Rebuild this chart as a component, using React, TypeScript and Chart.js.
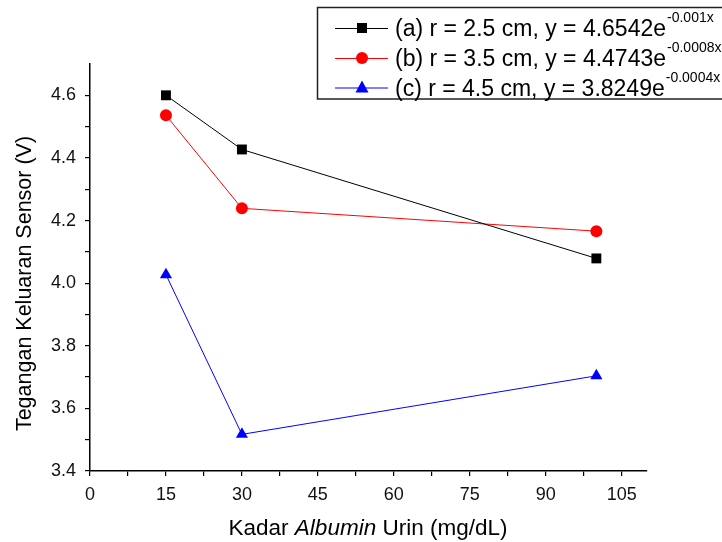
import React, { useEffect, useRef } from 'react';
import { Chart, registerables } from 'chart.js';

Chart.register(...registerables);

// ---- data ----
const xValues = [15, 30, 100];
const seriesA = [4.6, 4.427, 4.079];
const seriesB = [4.536, 4.239, 4.166];
const seriesC = [4.027, 3.517, 3.704];
const legendMain = [
  '(a) r = 2.5 cm, y = 4.6542e',
  '(b) r = 3.5 cm, y = 4.4743e',
  '(c) r = 4.5 cm, y = 3.8249e',
];
const legendSup = ['-0.001x', '-0.0008x', '-0.0004x'];
const seriesColors = ['#000000', '#ff0000', '#0000ff'];
const pointStyles = ['rect', 'circle', 'triangle'];
const pointRadii = [7, 6, 7];
const xMajorTicks = [0, 15, 30, 45, 60, 75, 90, 105];
const xMinorTicks = [7.5, 22.5, 37.5, 52.5, 67.5, 82.5, 97.5];
const yMajorTicks = [3.4, 3.6, 3.8, 4.0, 4.2, 4.4, 4.6];
const yMinorTicks = [3.5, 3.7, 3.9, 4.1, 4.3, 4.5];
const yTitle = 'Tegangan Keluaran Sensor (V)';
const xTitleParts = [
  { text: 'Kadar ', italic: false },
  { text: 'Albumin', italic: true },
  { text: ' Urin (mg/dL)', italic: false },
];

const FONT = '"Liberation Sans", Arial, sans-serif';

function drawMarker(ctx: CanvasRenderingContext2D, style: string, x: number, y: number, color: string) {
  ctx.fillStyle = color;
  ctx.beginPath();
  if (style === 'rect') {
    ctx.rect(x - 5, y - 5, 10, 10);
  } else if (style === 'circle') {
    ctx.arc(x, y, 6, 0, Math.PI * 2);
  } else {
    ctx.moveTo(x, y - 7);
    ctx.lineTo(x + 6.5, y + 5);
    ctx.lineTo(x - 6.5, y + 5);
    ctx.closePath();
  }
  ctx.fill();
}

const decorPlugin = {
  id: 'decor',
  afterDraw(chart: any) {
    const ctx: CanvasRenderingContext2D = chart.ctx;
    // Y title
    ctx.save();
    ctx.fillStyle = '#000';
    ctx.font = `21.5px ${FONT}`;
    ctx.textAlign = 'center';
    ctx.textBaseline = 'middle';
    ctx.translate(25, 283.5);
    ctx.rotate(-Math.PI / 2);
    ctx.fillText(yTitle, 0, 0);
    ctx.restore();

    // X title
    ctx.save();
    ctx.fillStyle = '#000';
    ctx.textBaseline = 'alphabetic';
    ctx.textAlign = 'left';
    let total = 0;
    const widths = xTitleParts.map((p) => {
      ctx.font = `${p.italic ? 'italic ' : ''}22.5px ${FONT}`;
      const w = ctx.measureText(p.text).width;
      total += w;
      return w;
    });
    let x = 368 - total / 2;
    xTitleParts.forEach((p, i) => {
      ctx.font = `${p.italic ? 'italic ' : ''}22.5px ${FONT}`;
      ctx.fillText(p.text, x, 535);
      x += widths[i];
    });
    ctx.restore();

    // Legend
    ctx.save();
    ctx.fillStyle = '#fff';
    ctx.fillRect(317, 7, 420, 92);
    ctx.strokeStyle = '#222';
    ctx.lineWidth = 1.5;
    ctx.strokeRect(317.5, 7.5, 420, 91.5);
    const rows = [28, 58, 87.5];
    legendMain.forEach((t, i) => {
      const cy = rows[i];
      ctx.strokeStyle = seriesColors[i];
      ctx.lineWidth = 1;
      ctx.beginPath();
      ctx.moveTo(335, cy + 0.5);
      ctx.lineTo(388, cy + 0.5);
      ctx.stroke();
      drawMarker(ctx, pointStyles[i], 362, cy, seriesColors[i]);
      ctx.fillStyle = '#000';
      ctx.textAlign = 'left';
      ctx.textBaseline = 'alphabetic';
      ctx.font = `23px ${FONT}`;
      ctx.fillText(t, 395, cy + 8);
      const w = ctx.measureText(t).width;
      ctx.font = `14px ${FONT}`;
      ctx.fillText(legendSup[i], 395 + w + 1, cy - 6);
    });
    ctx.restore();
  },
};

const isIn = (arr: number[], n: number) => arr.some((m) => Math.abs(m - n) < 1e-6);

export default function App() {
  const ref = useRef<HTMLCanvasElement | null>(null);
  useEffect(() => {
    if (!ref.current) return;
    const series = [seriesA, seriesB, seriesC];
    const chart = new Chart(ref.current, {
      type: 'line',
      data: {
        datasets: series.map((s, i) => ({
          label: legendMain[i] + legendSup[i],
          data: s.map((v, j) => ({ x: xValues[j], y: v })),
          borderColor: seriesColors[i],
          backgroundColor: seriesColors[i],
          borderWidth: 1,
          pointStyle: pointStyles[i] as any,
          pointRadius: pointRadii[i],
          pointBorderWidth: 0,
          fill: false,
          tension: 0,
        })),
      },
      options: {
        responsive: false,
        animation: false,
        layout: { padding: { left: 0, top: 64, right: 75, bottom: 0 } },
        plugins: { legend: { display: false }, tooltip: { enabled: false } },
        scales: {
          x: {
            type: 'linear',
            min: 0,
            max: 110,
            afterBuildTicks: (scale: any) => {
              scale.ticks = [...xMajorTicks, ...xMinorTicks].sort((a, b) => a - b).map((v) => ({ value: v }));
            },
            afterFit: (scale: any) => {
              scale.height = 71;
            },
            ticks: {
              autoSkip: false,
              maxRotation: 0,
              padding: 8,
              color: '#111',
              font: { family: '"Liberation Sans", Arial, sans-serif', size: 18 },
              callback: (v: any) => {
                const n = Number(v);
                return isIn(xMajorTicks, n) ? String(Math.round(n)) : '';
              },
            },
            grid: { drawOnChartArea: false, drawTicks: true, tickLength: 5, color: '#000', lineWidth: 1.2 },
            border: { display: true, color: '#000', width: 1.5 },
          },
          y: {
            type: 'linear',
            min: 3.4,
            max: 4.7,
            afterBuildTicks: (scale: any) => {
              scale.ticks = [...yMajorTicks, ...yMinorTicks].sort((a, b) => a - b).map((v) => ({ value: v }));
            },
            afterFit: (scale: any) => {
              scale.width = 90;
            },
            ticks: {
              autoSkip: false,
              padding: 9,
              color: '#111',
              font: { family: '"Liberation Sans", Arial, sans-serif', size: 18 },
              callback: (v: any) => {
                const n = Number(v);
                return isIn(yMajorTicks, n) ? n.toFixed(1) : '';
              },
            },
            grid: { drawOnChartArea: false, drawTicks: true, tickLength: 5, color: '#000', lineWidth: 1.2 },
            border: { display: true, color: '#000', width: 1.5 },
          },
        },
      },
      plugins: [decorPlugin],
    });
    return () => chart.destroy();
  }, []);
  return (
    <div style={{ position: 'absolute', left: 0, top: 0, width: 722, height: 542, background: '#fff' }}>
      <canvas ref={ref} width={722} height={542} style={{ display: 'block' }} />
    </div>
  );
}
